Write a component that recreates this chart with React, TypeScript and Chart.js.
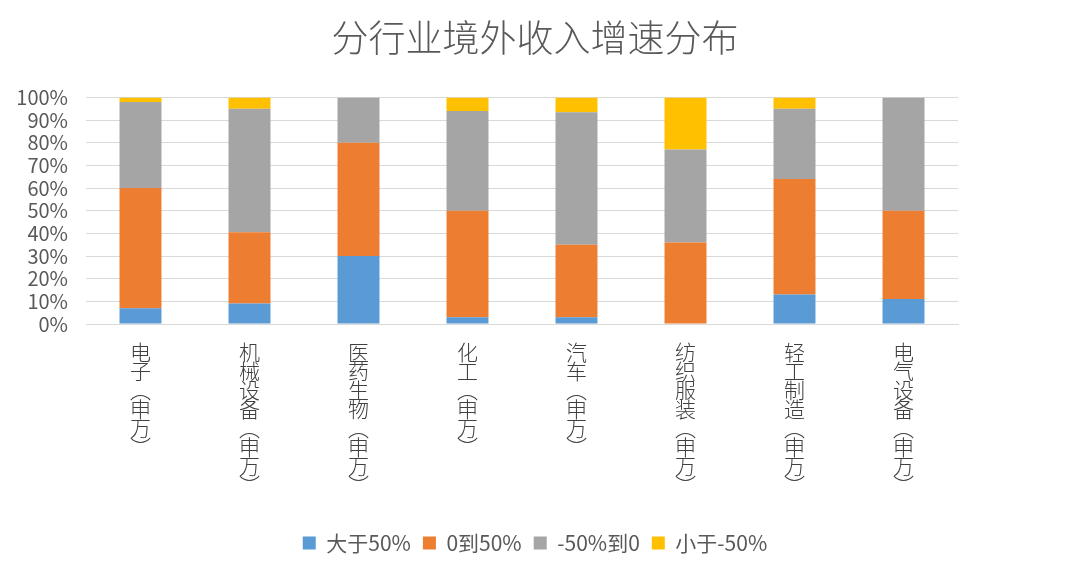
import React, { useEffect, useRef } from 'react';
import { Chart, registerables } from 'chart.js';

Chart.register(...registerables);

const titleText = '分行业境外收入增速分布';
const categories = ['电子(申万)', '机械设备(申万)', '医药生物(申万)', '化工(申万)', '汽车(申万)', '纺织服装(申万)', '轻工制造(申万)', '电气设备(申万)'];
const seriesNames = ['大于50%', '0到50%', '-50%到0', '小于-50%'];
const above50 = [7, 9, 30, 3, 3, 0, 13, 11];
const zeroTo50 = [53, 31.5, 50, 47, 32, 36, 51, 39];
const minus50To0 = [38, 54.5, 20, 44, 58.5, 41, 31, 50];
const below50 = [2, 5, 0, 6, 6.5, 23, 5, 0];
const yTickValues = [0, 10, 20, 30, 40, 50, 60, 70, 80, 90, 100];

const colors = ['#5B9BD5', '#ED7D31', '#A5A5A5', '#FFC000'];
const FONT = '"Noto Sans CJK SC", "Noto Sans", sans-serif';
const TEXT = '#595959';

// vertical label: one character per line, parentheses in vertical form
const verticalLabel = (s: string) =>
  Array.from(s).map((c) => (c === '(' ? '︵' : c === ')' ? '︶' : c));

export default function App() {
  const ref = useRef<HTMLCanvasElement>(null);
  useEffect(() => {
    if (!ref.current) return;
    const values = [above50, zeroTo50, minus50To0, below50];
    const chart = new Chart(ref.current, {
      type: 'bar',
      data: {
        labels: categories.map(verticalLabel),
        datasets: seriesNames.map((name, i) => ({
          label: name,
          data: values[i],
          backgroundColor: colors[i],
          borderWidth: 0,
          categoryPercentage: 1,
          barPercentage: 0.385,
        })),
      },
      options: {
        responsive: false,
        animation: false,
        layout: { padding: { top: 0, left: 0, right: 0, bottom: 14.5 } },
        plugins: {
          title: {
            display: true,
            text: titleText,
            color: TEXT,
            font: { family: FONT, size: 37, weight: '300', lineHeight: 1.2 },
            padding: { top: 15.8, bottom: 37.3 },
          },
          legend: {
            position: 'bottom',
            labels: {
              color: TEXT,
              font: { family: FONT, size: 21 },
              boxWidth: 13,
              boxHeight: 13,
              padding: 12,
            },
          },
          tooltip: { enabled: false },
        },
        scales: {
          x: {
            stacked: true,
            grid: { display: false, drawTicks: false },
            border: { display: true, color: '#D9D9D9' },
            ticks: {
              color: '#404040',
              font: { family: FONT, size: 21, weight: '300', lineHeight: '19px' },
              padding: 19,
              maxRotation: 0,
              minRotation: 0,
              autoSkip: false,
            },
            afterFit: (s: any) => {
              s.height = 196.5;
            },
          },
          y: {
            stacked: true,
            min: 0,
            max: 100,
            grid: { color: '#D9D9D9', drawTicks: false },
            border: { display: false },
            afterBuildTicks: (s: any) => {
              s.ticks = yTickValues.map((v) => ({ value: v }));
            },
            ticks: {
              color: TEXT,
              font: { family: FONT, size: 20 },
              padding: 18,
              autoSkip: false,
              callback: (v: any) => v + '%',
            },
            afterFit: (s: any) => {
              s.width = 86;
            },
          },
          y2: {
            position: 'right',
            grid: { display: false, drawTicks: false },
            border: { display: false },
            ticks: { display: false },
            afterFit: (s: any) => {
              s.width = 112;
            },
          },
        },
      },
    });
    return () => chart.destroy();
  }, []);
  return (
    <div style={{ position: 'absolute', left: 0, top: 0, width: 1070, height: 578, background: '#fff' }}>
      <canvas ref={ref} width={1070} height={578} />
    </div>
  );
}
